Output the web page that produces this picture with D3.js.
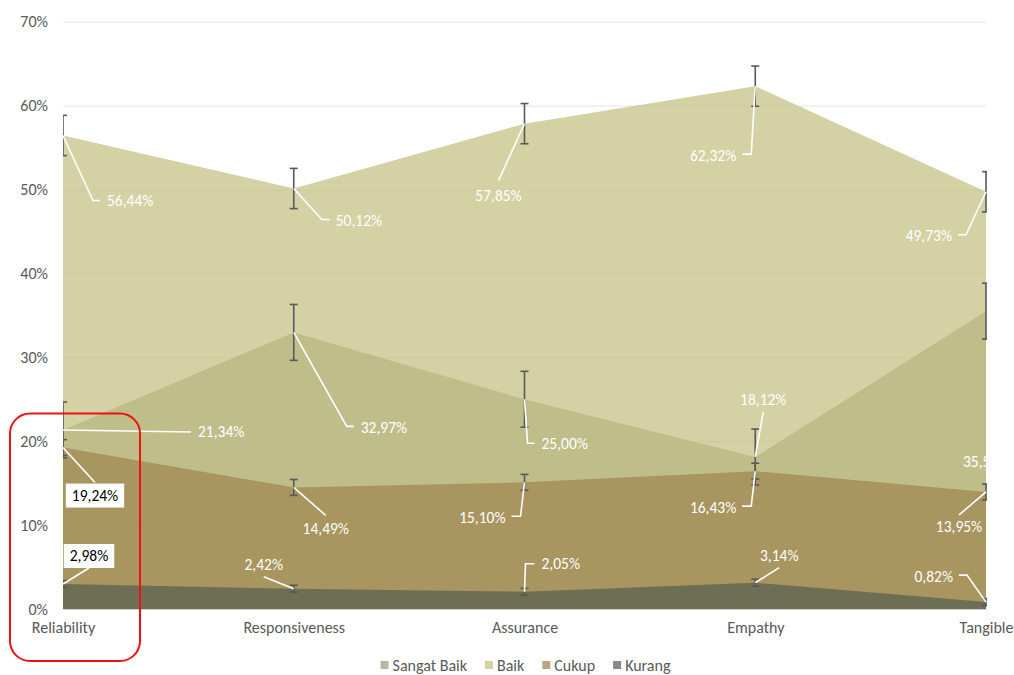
<!DOCTYPE html>
<html>
<head>
<meta charset="utf-8">
<script src="https://cdn.jsdelivr.net/npm/d3@7"></script>
<style>
  body { margin: 0; background: #fff; }
  text { font-family: Carlito, Calibri, Lato, sans-serif; }
</style>
</head>
<body>
<div id="chart"></div>
<script>
// data
const categories = ["Reliability", "Responsiveness", "Assurance", "Empathy", "Tangible"];
const seriesNames = ["Sangat Baik", "Baik", "Cukup", "Kurang"];
const sangatBaik = [21.34, 32.97, 25.00, 18.12, 35.50];
const baik = [56.44, 50.12, 57.85, 62.32, 49.73];
const cukup = [19.24, 14.49, 15.10, 16.43, 13.95];
const kurang = [2.98, 2.42, 2.05, 3.14, 0.82];
const yTicks = [0, 10, 20, 30, 40, 50, 60, 70];

const seriesValues = [sangatBaik, baik, cukup, kurang];
const colors = ["#949f7b", "#c4bf82", "#9f854f", "#575f50"];
const fillOpacity = 0.72;
const fontSize = "16px";
const labelSize = "15.5px";

// label placement (leader elbow offset, horizontal tail, text anchor, text offset)
const labelSpec = [
  [ {e: [128, 2], h: 0, a: "start", t: [7, 0]},
    {e: [53, 94], h: 7, a: "start", t: [7, 1]},
    {e: [3, 44], h: 7, a: "start", t: [7, 0]},
    {e: [8, -45], h: 0, a: "middle", t: [0, -12]},
    {e: null, h: 0, a: "start", t: [-23, 150]} ],
  [ {e: [30, 65], h: 7, a: "start", t: [7, 0]},
    {e: [28, 31], h: 8, a: "start", t: [6, 1]},
    {e: [-26, 57], h: 0, a: "middle", t: [0, 15]},
    {e: [-4, 68], h: -9, a: "end", t: [-6, 1]},
    {e: [-20, 43], h: -8, a: "end", t: [-6, 1]} ],
  [ {e: [32, 35], h: 0, a: "middle", t: [0, 13], box: true},
    {e: [32, 28], h: 0, a: "middle", t: [0, 13]},
    {e: [-4, 34], h: -9, a: "end", t: [-6, 1]},
    {e: [-4, 35], h: -9, a: "end", t: [-6, 1]},
    {e: [-27, 23], h: 0, a: "middle", t: [0, 12]} ],
  [ {e: [26, -16], h: 0, a: "middle", t: [0, -12], box: true},
    {e: [-30, -12], h: 0, a: "middle", t: [0, -12]},
    {e: [1, -28], h: 9, a: "start", t: [7, 0]},
    {e: [24, -15], h: 0, a: "middle", t: [0, -12]},
    {e: [-19, -27], h: -8, a: "end", t: [-6, 1]} ]
];

const W = 1014, H = 675;
const plotLeft = 63, plotRight = 986, plotTop = 21.7, plotBottom = 609;

const svg = d3.select("#chart").append("svg")
  .attr("width", W)
  .attr("height", H);

svg.append("defs").append("clipPath").attr("id", "plotClip")
  .append("rect")
  .attr("x", plotLeft).attr("y", 0)
  .attr("width", plotRight - plotLeft + 1).attr("height", plotBottom + 2);

const x = d3.scalePoint().domain(categories).range([plotLeft, plotRight]);
const y = d3.scaleLinear().domain([0, 70]).range([plotBottom, plotTop]);

// gridlines + y labels
const yAxis = svg.append("g")
  .attr("transform", `translate(${plotLeft},0)`)
  .call(d3.axisLeft(y).tickValues(yTicks).tickSize(-(plotRight - plotLeft)).tickPadding(15).tickFormat(d => d + "%"));
yAxis.select(".domain").remove();
yAxis.selectAll(".tick line").attr("stroke", "#e4e4e4").attr("stroke-width", 1);
yAxis.selectAll(".tick text").attr("fill", "#595959").style("font-size", fontSize);
yAxis.selectAll(".tick").filter(d => d === 0).select("line").remove();

// areas
const area = d3.area()
  .x((d, i) => x(categories[i]))
  .y0(y(0))
  .y1(d => y(d));

seriesValues.forEach((vals, s) => {
  svg.append("path")
    .datum(vals)
    .attr("d", area)
    .attr("fill", colors[s])
    .attr("fill-opacity", fillOpacity);
});

// x axis
const xAxis = svg.append("g")
  .attr("transform", `translate(0,${plotBottom})`)
  .call(d3.axisBottom(x).tickSize(0).tickPadding(13));
xAxis.select(".domain").attr("stroke", "#d0d0d0").attr("stroke-width", 1.2);
xAxis.selectAll(".tick text").attr("fill", "#595959").style("font-size", fontSize);

// error bars (standard error of each series)
const errG = svg.append("g").attr("clip-path", "url(#plotClip)");
seriesValues.forEach(vals => {
  const se = d3.deviation(vals) / Math.sqrt(vals.length);
  vals.forEach((v, i) => {
    const cx = x(categories[i]);
    const y1 = y(v + se), y2 = y(v - se);
    const g = errG.append("g").attr("stroke", "#595959").attr("stroke-width", 1.6);
    g.append("line").attr("x1", cx).attr("x2", cx).attr("y1", y1).attr("y2", y2);
    g.append("line").attr("x1", cx - 4).attr("x2", cx + 4).attr("y1", y1).attr("y2", y1);
    g.append("line").attr("x1", cx - 4).attr("x2", cx + 4).attr("y1", y2).attr("y2", y2);
  });
});

// data labels with leader lines
const fmt = v => v.toFixed(2).replace(".", ",") + "%";
const labG = svg.append("g").attr("clip-path", "url(#plotClip)");
seriesValues.forEach((vals, s) => {
  vals.forEach((v, i) => {
    const spec = labelSpec[s][i];
    const px = x(categories[i]), py = y(v);
    let ex = px, ey = py;
    if (spec.e) {
      ex = px + spec.e[0];
      ey = py + spec.e[1];
      const pts = [[px, py], [ex, ey], [ex + spec.h, ey]];
      labG.append("path")
        .attr("d", d3.line()(pts))
        .attr("fill", "none")
        .attr("stroke", "#fff")
        .attr("stroke-width", 1.6);
      ex += spec.h;
    }
    const tx = ex + spec.t[0], ty = ey + spec.t[1];
    const txt = labG.append("text")
      .attr("x", tx).attr("y", ty)
      .attr("text-anchor", spec.a)
      .attr("dominant-baseline", "central")
      .attr("fill", spec.box ? "#000" : "#fff")
      .style("font-size", labelSize)
      .text(fmt(v));
    if (spec.box) {
      const b = txt.node().getBBox();
      labG.insert("rect", () => txt.node())
        .attr("x", b.x - 6).attr("y", b.y - 2.5)
        .attr("width", b.width + 12).attr("height", b.height + 5)
        .attr("fill", "#fff");
    }
  });
});

// highlight around Reliability
const rx0 = x(categories[0]);
svg.append("rect")
  .attr("x", rx0 - 53).attr("y", y(23.3))
  .attr("width", 130).attr("height", 661 - y(23.3))
  .attr("rx", 20).attr("ry", 20)
  .attr("fill", "none")
  .attr("stroke", "#ee1111")
  .attr("stroke-width", 2);

// legend
const legend = svg.append("g");
let lx = 0;
seriesNames.forEach((name, s) => {
  const item = legend.append("g").attr("transform", `translate(${lx},0)`);
  item.append("rect")
    .attr("x", 0).attr("y", -4).attr("width", 8).attr("height", 8)
    .attr("fill", colors[s]).attr("fill-opacity", fillOpacity);
  const t = item.append("text")
    .attr("x", 12).attr("y", 0)
    .attr("dominant-baseline", "central")
    .attr("fill", "#595959")
    .style("font-size", fontSize)
    .text(name);
  lx += 12 + t.node().getComputedTextLength() + 18;
});
const legendW = lx - 18;
legend.attr("transform", `translate(${(plotLeft + plotRight) / 2 - legendW / 2 + 1},665)`);
</script>
</body>
</html>
